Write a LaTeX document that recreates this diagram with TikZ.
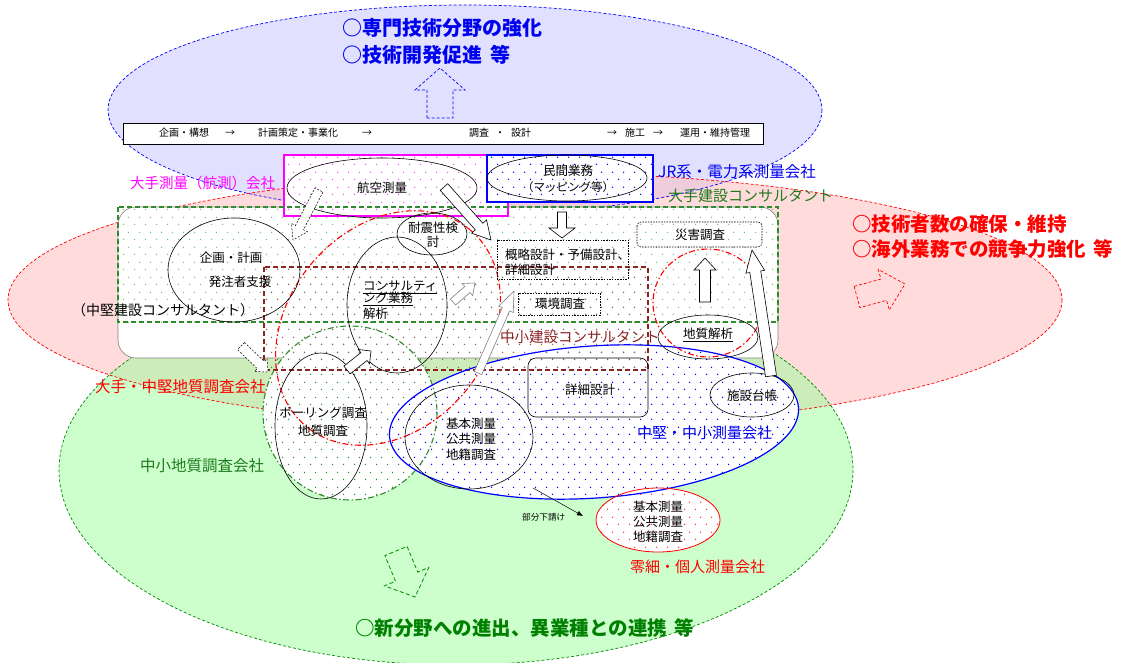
\documentclass[tikz,border=0pt]{standalone}
\usepackage{fontspec}
\setmainfont{Noto Sans CJK JP}
\usetikzlibrary{patterns.meta,calc,arrows.meta}
\definecolor{bfill}{HTML}{C4C4FF}
\definecolor{rfill}{HTML}{FFB8B8}
\definecolor{gfill}{HTML}{99FF99}
\definecolor{dgreen}{HTML}{1E7B1E}
\definecolor{lgdot}{HTML}{7CC47C}
\definecolor{brownl}{HTML}{8B2323}
\definecolor{browndot}{HTML}{8C6450}
\definecolor{mag}{HTML}{FF00FF}
\definecolor{tblue}{HTML}{0000F0}
\definecolor{gline}{HTML}{2E8B2E}
\tikzdeclarepattern{name=sdots,type=uncolored,bounding box={(0pt,0pt) and (11pt,15pt)},tile size={(11pt,15pt)},code={\fill (2.75pt,3.75pt) circle[radius=0.8pt];\fill (8.25pt,11.25pt) circle[radius=0.8pt];}}
\newcommand\blockarrow[6]{%
  \coordinate (ba-h) at ($(#3)!#6pt!(#2)$);
  \draw[#1] ($(#2)!#4pt!90:(#3)$) -- ($(ba-h)!#4pt!90:(#3)$) -- ($(ba-h)!#5pt!90:(#3)$) -- (#3) -- ($(ba-h)!#5pt!-90:(#3)$) -- ($(ba-h)!#4pt!-90:(#3)$) -- ($(#2)!#4pt!-90:(#3)$) -- cycle;}
\begin{document}
\begin{tikzpicture}[x=1pt,y=-1pt,
  jt/.style={font=\fontsize{12.5}{14}\selectfont,inner sep=0pt},
  bart/.style={font=\fontsize{10}{12}\selectfont,inner sep=0pt},
  lab/.style={font=\fontsize{15}{17}\selectfont,inner sep=0pt,anchor=west},
  bigt/.style={font=\fontsize{20}{24}\selectfont\bfseries,inner sep=0pt,anchor=west},
  inell/.style={draw=black,line width=0.6pt},
  harrow/.style={draw=black,fill=white,line width=0.6pt},
  bigborder/.style={line width=0.7pt,dash pattern=on 3pt off 2pt},
  dashdot/.style={line width=1.1pt,dash pattern=on 6pt off 2.5pt on 1.5pt off 2.5pt},
  dotbox/.style={draw=black,line width=0.6pt,dash pattern=on 1.5pt off 1.2pt}]
\useasboundingbox (0,0) rectangle (1132,663);
% big ellipses
\fill[bfill,fill opacity=0.5] (465,110) ellipse [x radius=357,y radius=105];
\fill[rfill,fill opacity=0.5] (535,300) ellipse [x radius=527,y radius=127];
\fill[gfill,fill opacity=0.5] (456,470) ellipse [x radius=397,y radius=195];
\draw[blue,bigborder] (465,110) ellipse [x radius=357,y radius=105];
\draw[red,bigborder] (535,300) ellipse [x radius=527,y radius=127];
\draw[green!55!black,bigborder] (456,470) ellipse [x radius=397,y radius=195];
% top bar
\node[draw=black,fill=white,line width=0.8pt,minimum width=640pt,minimum height=21pt,inner sep=0pt,anchor=north west] (bar) at (123,123) {};
% rounded rect
\draw[gray,fill=white,line width=0.6pt,rounded corners=18pt] (118,207) rectangle (778,358);
% green rect dots
\fill[pattern=sdots,pattern color=lgdot] (118,207) rectangle (778,322);
% pink box and blue box
\fill[white] (284,155) rectangle (508,216);
\fill[pattern=sdots,pattern color=mag!70] (284,155) rectangle (508,216);
\draw[mag,line width=1.2pt] (284,155) rectangle (508,216);
\fill[white] (487,155) rectangle (653,202);
\fill[pattern=sdots,pattern color=blue] (487,155) rectangle (653,202);
\draw[blue,line width=1.2pt] (487,155) rectangle (653,202);
% green circle
\fill[white] (350,413) circle[radius=87];
\fill[pattern=sdots,pattern color=gline] (350,413) circle[radius=87];
% blue ellipse
\fill[white,rotate around={4:(594,422)}] (594,422) ellipse [x radius=205,y radius=76];
\fill[pattern=sdots,pattern color=blue,rotate around={4:(594,422)}] (594,422) ellipse [x radius=205,y radius=76];
% red small ellipse
\fill[white] (658,520) ellipse [x radius=62,y radius=32];
\fill[pattern=sdots,pattern color=red!80] (658,520) ellipse [x radius=62,y radius=32];
% brown rect dots
\fill[pattern=sdots,pattern color=browndot] (264,267) rectangle (648,370);
% borders
\draw[gline,line width=1.1pt,dash pattern=on 5pt off 3pt] (118,207) rectangle (778,322);
\draw[brownl,line width=1.1pt,dash pattern=on 5pt off 3pt] (264,267) rectangle (648,370);
\draw[gline,dashdot] (350,413) circle[radius=87];
\draw[blue,line width=1.2pt,rotate around={4:(594,422)}] (594,422) ellipse [x radius=205,y radius=76];
\draw[red,line width=0.8pt] (658,520) ellipse [x radius=62,y radius=32];
\draw[red,dashdot,rotate around={50:(388,328)}] (388,328) ellipse [x radius=128,y radius=100];
\draw[red,dashdot] (708,303) ellipse [x radius=55,y radius=54];
% inner ellipses
\draw[inell] (382,188) ellipse [x radius=95,y radius=30];
\draw[inell] (567,178) ellipse [x radius=80,y radius=23];
\draw[inell] (234,270) ellipse [x radius=66,y radius=52];
\draw[inell] (432,234) ellipse [x radius=35,y radius=21];
\draw[inell] (397,305) ellipse [x radius=50,y radius=68];
\draw[inell] (321,426) ellipse [x radius=46,y radius=73];
\draw[inell] (469,437) ellipse [x radius=64,y radius=52];
\draw[inell] (708,337) ellipse [x radius=50,y radius=22];
\draw[inell] (752,395) ellipse [x radius=42,y radius=22];
% boxes
\draw[dotbox] (497,240) rectangle (628,279);
\draw[dotbox] (518,293) rectangle (600,315);
\draw[dotbox,rounded corners=4pt] (637,222) rectangle (762,247);
\draw[draw=black,line width=0.6pt,rounded corners=8pt] (528,358) rectangle (648,417);
% block arrows
\coordinate (a1s) at (440,118); \coordinate (a1e) at (440,68);
\blockarrow{draw=blue,line width=0.7pt,dash pattern=on 3pt off 2pt}{a1s}{a1e}{13}{25}{22}
\coordinate (a2s) at (444,187); \coordinate (a2e) at (491,240);
\blockarrow{harrow}{a2s}{a2e}{5}{10}{18}
\coordinate (a3s) at (319,190); \coordinate (a3e) at (293,240);
\blockarrow{draw=black,fill=white,line width=0.5pt,dash pattern=on 2pt off 1.5pt}{a3s}{a3e}{4.5}{9}{14}
\coordinate (a4s) at (453,302); \coordinate (a4e) at (475,283);
\blockarrow{draw=gray,fill=white,line width=0.6pt}{a4s}{a4e}{4}{8}{10}
\coordinate (a5s) at (478,373); \coordinate (a5e) at (514,291);
\blockarrow{draw=gray,fill=white,line width=0.6pt}{a5s}{a5e}{4}{8}{20}
\coordinate (a6s) at (562,212); \coordinate (a6e) at (562,238);
\blockarrow{harrow}{a6s}{a6e}{4.5}{13}{10}
\coordinate (a7s) at (705,302); \coordinate (a7e) at (705,258);
\blockarrow{harrow}{a7s}{a7e}{5.5}{11}{12}
\coordinate (a8s) at (771,376); \coordinate (a8e) at (752,250);
\blockarrow{harrow}{a8s}{a8e}{5.5}{9.5}{22}
\coordinate (a9s) at (347,370); \coordinate (a9e) at (371,351);
\blockarrow{harrow}{a9s}{a9e}{5}{9}{9}
\coordinate (a10s) at (241,346); \coordinate (a10e) at (268,372);
\blockarrow{draw=black,fill=white,line width=0.5pt,dash pattern=on 2pt off 1.5pt}{a10s}{a10e}{5}{9}{10}
\coordinate (a11s) at (857,297); \coordinate (a11e) at (905,284);
\blockarrow{draw=red,line width=0.7pt,dash pattern=on 3pt off 2pt}{a11s}{a11e}{11}{21}{22}
\coordinate (a12s) at (396,551); \coordinate (a12e) at (415,597);
\blockarrow{draw=green!55!black,line width=0.8pt,dash pattern=on 4pt off 2.5pt}{a12s}{a12e}{12}{24}{22}
% subcontract arrow
\coordinate (sa1) at (533,488); \coordinate (sa2) at (583,516);
\draw[line width=0.5pt,-{Latex[length=6pt,width=5pt]}] (sa1) -- (sa2);
% texts
\node[bigt,text=tblue] (t1) at (342,28) {○専門技術分野の強化};
\node[bigt,text=tblue] (t2) at (342,55) {○技術開発促進\hspace{0.4em}等};
\node[bart] (b1) at (184,133) {企画・構想};
\node[bart] (b2) at (230,133) {→};
\node[bart] (b3) at (298,133) {計画策定・事業化};
\node[bart] (b4) at (367,133) {→};
\node[bart] (b5) at (500,133) {調査\hspace{0.6em}・\hspace{0.6em}設計};
\node[bart] (b6) at (612,133) {→};
\node[bart] (b7) at (635,133) {施工};
\node[bart] (b8) at (658,133) {→};
\node[bart] (b9) at (715,133) {運用・維持管理};
\node[lab,text=mag,font=\fontsize{14.5}{17}\selectfont] (l1) at (130,183) {大手測量（航測）会社};
\node[lab,text=tblue,font=\fontsize{15.5}{17}\selectfont] (l2) at (658,172) {JR系・電力系測量会社};
\node[lab,text=dgreen] (l3) at (668,196) {大手建設コンサルタント};
\node[lab,font=\fontsize{14}{17}\selectfont] (l4) at (72,310) {（中堅建設コンサルタント）};
\node[lab,text=red,font=\fontsize{15.5}{17}\selectfont] (l5) at (95,387) {大手・中堅地質調査会社};
\node[lab,text=brownl,font=\fontsize{14.5}{17}\selectfont] (l6) at (500,337) {中小建設コンサルタント};
\node[lab,text=dgreen,font=\fontsize{15.5}{17}\selectfont] (l7) at (140,466) {中小地質調査会社};
\node[lab,text=tblue] (l8) at (637,433) {中堅・中小測量会社};
\node[lab,text=red] (l9) at (630,567) {零細・個人測量会社};
\node[inner sep=0pt,anchor=west,font=\fontsize{8.6}{10}\selectfont] (l10) at (522,517) {部分下請け};
\node[bigt,text=red,font=\fontsize{19.5}{24}\selectfont\bfseries] (r1) at (852,224) {○技術者数の確保・維持};
\node[bigt,text=red,font=\fontsize{19.5}{24}\selectfont\bfseries] (r2) at (852,249) {○海外業務での競争力強化\hspace{0.4em}等};
\node[bigt,text=green!50!black,font=\fontsize{19.5}{24}\selectfont\bfseries] (g1) at (355,628) {○新分野への進出、異業種との連携\hspace{0.4em}等};
% inner texts
\node[jt] (i1) at (382,188) {航空測量};
\node[jt] (i2) at (568,171) {民間業務};
\node[jt,font=\fontsize{11.5}{13}\selectfont] (i3) at (568,187) {（マッピング等）};
\node[jt] (i4) at (231,258) {企画・計画};
\node[jt] (i5) at (240,282) {発注者支援};
\node[jt] (i6) at (433,228) {耐震性検};
\node[jt] (i7) at (433,242) {討};
\node[jt,anchor=west] (i8) at (363,287) {\underline{コンサルティ}};
\node[jt,anchor=west] (i9) at (363,299) {\underline{ング業務}};
\node[jt,anchor=west] (i10) at (363,314) {解析};
\node[jt,anchor=west] (i11) at (505,255) {概略設計・予備設計、};
\node[jt,anchor=west] (i12) at (505,270) {詳細設計};
\node[jt] (i13) at (560,304) {環境調査};
\node[jt] (i14) at (700,235) {災害調査};
\node[jt] (i15) at (708,335) {\underline{地質解析}};
\node[jt] (i16) at (752,396) {施設台帳};
\node[jt] (i17) at (590,390) {詳細設計};
\node[jt] (i18) at (471,424) {基本測量};
\node[jt] (i19) at (471,439) {公共測量};
\node[jt] (i20) at (471,455) {地籍調査};
\node[jt] (i21) at (323,413) {ボーリング調査};
\node[jt] (i22) at (323,431) {地質調査};
\node[jt] (i23) at (658,507) {基本測量};
\node[jt] (i24) at (658,522) {公共測量};
\node[jt] (i25) at (658,537) {地籍調査};
\end{tikzpicture}
\end{document}
